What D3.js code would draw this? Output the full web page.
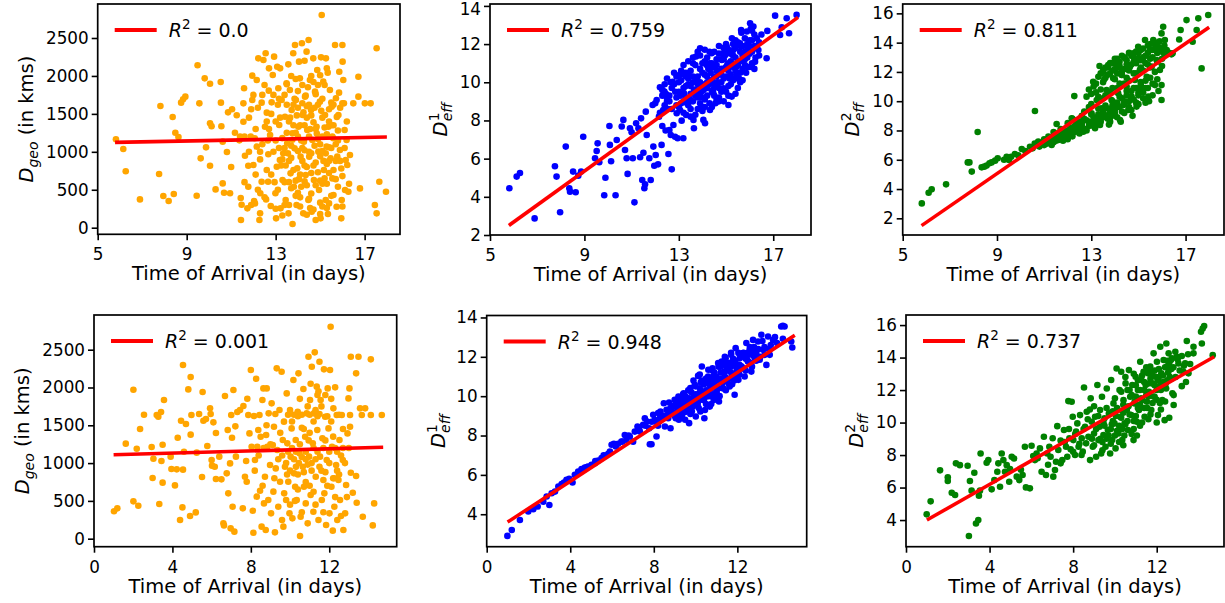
<!DOCTYPE html>
<html>
<head>
<meta charset="utf-8">
<script src="https://cdn.jsdelivr.net/npm/d3@7"></script>
<style>
  body { margin: 0; background: #fff; }
  text { font-family: "DejaVu Sans", sans-serif; }
</style>
</head>
<body>
<script>
// valores (aprox.)
var xTicksTop = [5, 9, 13, 17];
var xTicksBot = [0, 4, 8, 12];
var geoTicks = [0, 500, 1000, 1500, 2000, 2500];
var eff1TopTicks = [2, 4, 6, 8, 10, 12, 14];
var eff2TopTicks = [2, 4, 6, 8, 10, 12, 14, 16];
var eff1BotTicks = [4, 6, 8, 10, 12, 14];
var eff2BotTicks = [4, 6, 8, 10, 12, 14, 16];
var r2Labels = ["0.0", "0.759", "0.811", "0.001", "0.948", "0.737"];

var geoTopFit = [[5.78, 1125], [18.0, 1195]];
var eff1TopFit = [[5.8, 2.5], [18.05, 13.4]];
var eff2TopFit = [[5.8, 1.5], [18.0, 15.05]];
var geoBotFit = [[1.0, 1110], [14.75, 1210]];
var eff1BotFit = [[1.0, 3.6], [14.75, 13.1]];
var eff2BotFit = [[1.0, 4.0], [14.75, 14.05]];

var geoTopPts = [[5.82,1164],[6.15,1037],[6.26,743],[6.9,373],[7.76,707],[7.82,1604],[7.95,417],[8.19,351],[8.37,1459],[8.42,444],[8.49,1252],[8.63,1195],[8.75,1648],[8.84,1692],[8.94,1727],[9.45,422],[9.49,2140],[9.57,1639],[9.63,914],[9.81,1968],[9.87,1059],[10.05,817],[10.05,1898],[10.05,1375],[10.12,1336],[10.3,505],[10.53,1920],[10.54,1648],[10.56,1336],[10.62,1134],[10.62,584],[10.68,461],[10.81,997],[10.86,1520],[10.95,453],[11.0,800],[11.04,1560],[11.17,1252],[11.25,1481],[11.37,1151],[11.4,1200],[11.43,391],[11.44,101],[11.47,303],[11.55,1397],[11.55,1639],[11.58,1837],[11.62,949],[11.73,255],[11.77,540],[11.77,817],[11.88,1200],[11.95,2004],[11.95,1683],[12.0,826],[12.03,351],[12.06,1178],[12.07,320],[12.15,1068],[12.15,1946],[12.22,2232],[12.27,101],[12.3,189],[12.31,453],[12.37,606],[12.37,1648],[12.45,2210],[12.52,1331],[12.55,2298],[12.57,373],[12.6,1516],[12.66,606],[12.67,967],[12.69,1806],[12.75,1222],[12.78,286],[12.82,1652],[12.87,2012],[12.93,2254],[12.99,453],[13.02,123],[13.05,804],[13.07,2122],[13.12,1837],[13.16,1353],[13.19,892],[13.22,255],[13.27,1683],[13.31,628],[13.34,980],[13.42,1463],[13.45,365],[13.49,1903],[13.52,1112],[13.57,2153],[13.58,189],[13.64,1815],[13.67,716],[13.72,1551],[13.75,1244],[13.76,48],[13.79,2298],[13.82,540],[13.85,1046],[13.87,2408],[13.91,1683],[13.94,299],[13.97,782],[14.02,1331],[14.05,2188],[14.09,1968],[14.12,936],[14.15,540],[14.18,2430],[14.21,1485],[14.24,189],[14.27,1134],[14.32,1727],[14.35,694],[14.39,2320],[14.42,1287],[14.47,365],[14.48,2474],[14.51,936],[14.54,1946],[14.59,1551],[14.62,211],[14.65,1156],[14.69,2232],[14.72,628],[14.77,1793],[14.8,101],[14.84,1331],[14.87,2078],[14.92,1002],[14.95,496],[14.99,1661],[15.02,123],[15.04,2245],[15.07,2803],[15.1,1200],[15.14,1925],[15.17,760],[15.22,1485],[15.25,365],[15.26,2232],[15.29,1068],[15.34,2043],[15.37,1331],[15.4,320],[15.44,1815],[15.47,914],[15.52,1595],[15.55,650],[15.59,1178],[15.67,2408],[15.71,1705],[15.74,277],[15.77,936],[15.82,1485],[15.86,2056],[15.89,1024],[15.95,123],[15.97,365],[16.0,2408],[16.01,2188],[16.04,1946],[16.07,1639],[16.1,1287],[16.12,496],[16.15,892],[16.19,1156],[16.22,826],[16.27,474],[16.34,958],[16.49,1639],[16.72,1990],[16.72,1727],[16.79,518],[17.01,1639],[17.27,1639],[17.46,299],[17.54,189],[17.54,2364],[17.66,606],[17.96,474],
[13.1,1620],[13.3,1180],[13.4,1050],[13.5,1620],[13.6,1400],[13.6,880],[13.7,1080],[13.8,1620],[13.8,760],[13.9,1250],[13.9,420],[14.0,1580],[14.0,1010],[14.1,700],[14.1,1350],[14.2,880],[14.2,1640],[14.3,1020],[14.3,610],[14.4,1450],[14.4,800],[14.5,1200],[14.5,1620],[14.6,980],[14.6,720],[14.7,1390],[14.7,1920],[14.8,860],[14.8,560],[14.9,1170],[14.9,1620],[15.0,940],[15.0,330],[15.1,1450],[15.1,1010],[15.2,650],[15.2,1880],[15.3,1230],[15.3,840],[15.4,1560],[15.4,1060],[15.5,420],[15.5,1350],[15.6,760],[15.6,1620],[15.7,1100],[15.8,540],[15.8,1280],[15.9,880],[16.0,1640],[13.2,2100],[13.5,1890],[13.9,1960],[14.3,2200],[14.6,2000],[15.0,2010],[15.3,2100],[14.1,280],[14.4,170],[14.7,240],[15.0,180],[15.3,260],[13.6,300],[13.3,160],[12.9,1000],[12.8,1500],[12.6,760],[12.4,1100],[12.3,900],[12.2,1580],[12.1,700],[11.9,1560],[11.8,1000],[11.6,1200],[13.4,600],[13.7,520],[14.0,460],[14.2,1880],[14.5,380],[14.8,1760],[15.1,580],[15.4,720],[15.7,880],[13.0,1400],[12.7,1300],[12.5,1880],[13.25,820],[13.75,1160],[14.25,1520],[14.75,1080],[15.25,980],[15.75,1460],[14.05,640],[14.55,1300],[15.05,1540],[13.55,980],[13.15,1700],[15.55,1200],[15.95,780],[14.35,1740],[14.85,1240],[13.85,1700],
[11.6,600],[11.8,1450],[11.9,300],[12.0,1750],[12.1,1300],[12.2,500],[12.3,1000],[12.4,1750],[12.5,400],[12.6,1400],[12.7,2100],[12.8,700],[12.9,1750],[13.0,250],[13.0,1150],[13.1,500],[13.2,1450],[13.3,900],[13.4,1750],[13.4,300],[13.5,1250],[13.6,600],[13.7,2000],[13.7,920],[13.8,1350],[13.9,620],[14.0,1200],[14.0,1800],[14.1,400],[14.2,1050],[14.3,1350],[14.3,820],[14.4,560],[14.4,1600],[14.5,1000],[14.6,1480],[14.6,450],[14.7,820],[14.8,1300],[14.9,730],[14.9,1880],[15.0,1100],[15.0,620],[15.1,1700],[15.1,280],[15.2,1320],[15.3,580],[15.4,1400],[15.4,880],[15.5,1050],[15.5,1650],[15.6,430],[15.6,1350],[15.7,640],[15.8,1150],[15.9,1580],[16.0,680],[16.1,1050],[16.2,1400],[16.3,580],[16.0,280],[15.85,1780],[14.15,1150],[13.65,1450],[13.15,1050],[12.65,1150],[14.45,1850],[15.15,880],[14.75,1580],[13.45,820],[13.95,1480],[14.55,260],[15.35,180],[12.95,600]];

var eff1TopPts = [[5.82,4.45],[6.13,5.06],[6.27,5.25],[6.89,2.87],[7.75,5.6],[7.82,5.06],[7.97,3.19],[8.21,6.63],[8.36,4.45],[8.39,4.27],[8.52,5.32],[8.63,4.24],[8.74,5.11],[8.86,5.32],[8.95,7.15],[9.45,6.02],[9.52,6.4],[9.56,6.8],[9.63,5.81],[9.84,4.08],[9.89,5.0],[10.06,7.71],[10.08,6.72],[10.13,5.86],[10.32,4.08],[10.37,6.98],[10.58,7.68],[10.65,8.03],[10.72,6.45],[10.79,6.02],[10.83,5.2],[10.93,7.59],[11.0,7.38],[11.05,6.02],[11.12,3.71],[11.19,7.85],[11.29,7.59],[11.36,6.07],[11.4,8.11],[11.45,4.88],[11.5,6.31],[11.54,4.45],[11.57,4.66],[11.6,8.46],[11.64,7.24],[11.75,6.02],[11.81,4.88],[11.89,8.81],[11.92,6.63],[11.96,5.63],[12.02,6.19],[12.06,9.07],[12.12,5.7],[12.16,8.2],[12.2,9.74],[12.27,6.72],[12.3,7.71],[12.34,8.55],[12.39,9.51],[12.44,7.47],[12.49,9.2],[12.56,6.24],[12.6,7.5],[12.66,7.24],[12.7,5.44],[12.74,10.03],[12.77,7.76],[12.84,7.15],[12.91,8.38],[12.95,7.07],[13.02,10.38],[13.05,8.55],[13.12,7.99],[13.19,7.07],[13.22,9.42],[13.31,8.29],[13.4,10.47],[13.47,9.11],[13.62,8.03],[13.64,7.59],[13.73,11.35],[13.79,9.51],[13.9,11.78],[13.97,8.72],[14.04,8.03],[14.11,7.85],[14.18,10.91],[14.32,8.55],[14.39,11.52],[14.46,9.42],[14.6,10.3],[14.68,8.99],[14.82,11.17],[14.89,9.69],[15.03,11.87],[15.1,8.81],[15.17,10.3],[15.24,9.25],[15.31,11.69],[15.45,10.82],[15.59,12.04],[15.64,12.74],[15.73,11.17],[15.88,12.66],[15.95,11.87],[16.02,13.09],[16.09,10.82],[16.16,12.92],[16.23,11.08],[16.37,11.69],[16.72,11.26],[16.75,12.69],[17.08,13.49],[17.29,12.48],[17.36,12.88],[17.57,13.35],[17.67,12.57],[17.99,13.53],
[13.0,9.5],[13.1,8.9],[13.1,10.1],[13.2,9.7],[13.3,9.2],[13.3,10.3],[13.4,8.8],[13.4,9.9],[13.5,9.4],[13.5,10.6],[13.6,9.0],[13.6,10.0],[13.7,9.6],[13.7,10.9],[13.8,8.6],[13.8,10.3],[13.9,9.3],[13.9,10.7],[14.0,9.9],[14.0,11.0],[14.1,9.1],[14.1,10.4],[14.2,9.7],[14.2,11.3],[14.3,10.1],[14.3,8.9],[14.4,10.8],[14.4,9.5],[14.5,10.3],[14.5,11.6],[14.6,9.8],[14.6,10.9],[14.7,10.5],[14.7,9.2],[14.8,11.2],[14.8,10.0],[14.9,10.7],[14.9,11.8],[15.0,10.3],[15.0,9.5],[15.1,11.0],[15.1,10.6],[15.2,11.5],[15.2,9.9],[15.3,10.8],[15.3,12.0],[15.4,10.2],[15.4,11.3],[15.5,10.9],[15.5,9.7],[15.6,11.6],[15.6,10.5],[15.7,11.9],[15.7,10.1],[15.8,11.2],[15.8,12.3],[15.9,10.8],[16.0,11.5],[16.0,12.2],[16.1,11.0],[16.2,12.5],[16.3,11.8],[16.4,12.1],[13.2,8.4],[13.5,8.2],[13.8,9.2],[14.0,8.5],[14.2,10.0],[14.4,8.7],[14.6,9.1],[14.9,9.0],[15.1,9.3],[15.4,9.4],[14.1,11.7],[13.6,11.0],[13.9,11.4],[14.3,11.0],[14.7,11.5],[15.0,12.0],[15.4,12.2],[12.8,9.9],[12.6,9.3],[12.9,8.8],[12.7,8.6],[12.5,9.0],[12.4,8.8],[12.3,9.3],[12.2,8.4],[12.0,8.9],[12.9,10.3],[13.3,10.5],[14.5,9.9],[14.8,10.4],[15.2,10.4],[15.6,11.1],[15.9,11.7],[16.1,12.7],[16.5,12.5],[14.35,10.5],[13.75,10.1],[15.05,10.9],[15.55,10.2],[14.05,9.6],[13.45,9.0],[14.95,11.4],[15.85,10.5],[16.25,11.3],
[12.3,9.6],[12.4,9.9],[12.5,10.2],[12.6,9.0],[12.7,9.7],[12.8,10.5],[12.9,9.2],[13.0,10.0],[13.0,8.7],[13.1,10.6],[13.2,9.0],[13.2,10.9],[13.3,9.8],[13.4,10.2],[13.4,11.1],[13.5,8.6],[13.5,9.8],[13.6,10.3],[13.6,11.3],[13.7,9.3],[13.7,8.3],[13.8,9.9],[13.8,11.6],[13.9,8.9],[13.9,10.0],[14.0,10.5],[14.0,9.2],[14.1,11.1],[14.1,8.7],[14.2,10.3],[14.2,9.3],[14.3,11.6],[14.3,9.9],[14.4,10.1],[14.4,11.0],[14.5,9.3],[14.5,10.8],[14.6,11.2],[14.6,10.6],[14.7,9.7],[14.7,11.9],[14.8,10.7],[14.8,9.5],[14.9,10.2],[14.9,11.2],[15.0,11.5],[15.0,10.8],[15.1,9.8],[15.1,11.7],[15.2,10.9],[15.2,11.1],[15.3,10.1],[15.3,11.4],[15.4,11.8],[15.4,10.6],[15.5,11.1],[15.5,12.1],[15.6,10.0],[15.6,11.9],[15.7,10.7],[15.7,11.4],[15.8,11.6],[15.8,10.9],[15.9,12.0],[15.9,11.3],[16.0,10.8],[16.0,11.9],[16.1,11.6],[16.2,11.9],[16.2,10.7],[16.3,12.3],[16.4,11.4],[16.1,12.2],[14.25,10.7],[14.65,10.0],[15.15,10.2],[13.65,9.6],[13.35,8.9],[12.85,9.5],[12.55,8.6],[12.45,9.4],[13.05,9.3],[14.45,9.6],[14.85,11.5],[15.25,12.3],[15.65,12.6],[16.05,12.8],[15.45,10.4],[14.55,8.9],[13.95,9.5],[13.25,10.4],[12.65,10.0]];

var eff2TopPts = [[5.81,3.02],[6.1,3.75],[6.23,3.98],[6.84,4.32],[7.76,5.82],[7.83,5.82],[7.93,5.19],[8.18,7.9],[8.35,5.48],[8.46,5.53],[8.56,5.6],[8.68,5.76],[8.77,5.82],[8.92,5.94],[9.03,6.1],[9.41,6.21],[9.51,5.98],[9.76,6.39],[10.05,6.73],[10.4,6.89],[10.51,6.78],[10.61,9.33],[10.75,7.24],[10.96,7.12],[11.18,7.58],[11.32,7.01],[11.53,8.44],[11.6,7.35],[11.78,7.92],[11.95,7.58],[12.17,8.83],[12.28,10.35],[12.38,8.15],[12.52,8.6],[12.66,7.92],[12.8,10.31],[12.92,8.37],[13.01,9.17],[13.08,11.33],[13.16,8.15],[13.23,10.08],[13.3,11.67],[13.37,8.37],[13.44,9.51],[13.51,12.13],[13.58,9.06],[13.65,10.76],[13.72,12.47],[13.79,8.83],[13.86,10.08],[13.93,11.56],[14.0,9.17],[14.07,12.58],[14.14,10.54],[14.22,8.72],[14.29,11.79],[14.36,9.74],[14.43,12.93],[14.5,10.99],[14.57,9.4],[14.64,12.36],[14.71,10.31],[14.78,13.27],[14.85,11.45],[14.92,9.63],[14.99,13.72],[15.06,12.13],[15.13,10.76],[15.2,12.93],[15.28,14.18],[15.35,11.67],[15.42,10.31],[15.49,13.5],[15.56,12.36],[15.63,14.18],[15.7,11.1],[15.77,12.81],[15.84,13.72],[15.91,12.13],[15.98,10.08],[15.98,11.1],[15.98,14.63],[16.05,15.09],[16.08,13.27],[16.12,14.18],[16.45,13.27],[16.73,14.22],[16.79,14.86],[17.04,15.54],[17.3,14.06],[17.47,14.86],[17.54,15.66],[17.68,12.24],[17.96,15.89],
[11.4,7.2],[11.7,7.5],[11.9,7.7],[12.0,7.9],[12.1,8.1],[12.2,7.6],[12.3,8.3],[12.4,8.0],[12.5,8.2],[12.6,8.5],[12.7,8.1],[12.8,8.7],[12.9,8.3],[13.0,8.6],[13.1,8.9],[13.2,8.5],[13.3,9.1],[13.4,8.8],[13.5,9.3],[13.6,8.9],[13.7,9.5],[13.8,9.2],[13.9,9.7],[14.0,9.4],[14.1,9.9],[14.2,9.6],[14.3,10.2],[14.4,9.8],[14.5,10.4],[14.6,10.0],[14.7,10.7],[14.8,10.1],[14.9,10.9],[15.0,10.4],[15.1,11.1],[15.2,10.6],[15.3,11.4],[15.4,10.9],[15.5,11.6],[12.9,10.8],[13.1,11.0],[13.2,10.6],[13.4,11.9],[13.5,11.3],[13.6,12.3],[13.7,11.8],[13.8,12.6],[13.9,12.1],[14.0,12.9],[14.1,11.9],[14.2,12.7],[14.3,13.1],[14.4,12.2],[14.5,12.8],[14.6,13.3],[14.7,12.5],[14.8,13.0],[14.9,12.6],[15.0,13.3],[15.1,12.8],[15.2,13.6],[15.3,13.1],[15.4,13.8],[15.5,12.9],[15.6,13.5],[15.7,13.9],[15.8,13.3],[15.9,14.1],[16.0,13.6],[16.1,13.4],[16.2,13.2],[16.4,13.2],[13.3,10.3],[13.6,10.4],[13.9,10.9],[14.2,11.2],[14.5,11.6],[14.8,11.9],[15.1,12.3],[15.4,12.5],[15.7,12.0],[16.0,12.4],[13.0,9.8],[12.7,9.3],[13.8,8.6],[14.1,8.9],[14.4,9.2],[14.7,9.4],[15.0,9.8],[15.3,9.9],[15.6,10.4],[12.4,8.6],[11.8,7.3],[11.5,7.6],[11.2,7.3],[11.0,7.0],[10.8,6.9],[10.2,6.6],[9.9,6.3],[9.3,6.0],[9.6,6.2],[12.2,8.8],[13.35,12.4],[13.55,11.5],[14.15,12.3],
[11.1,7.1],[11.3,7.4],[11.5,7.3],[11.6,7.8],[11.8,7.6],[11.9,8.0],[12.0,7.4],[12.1,7.8],[12.2,8.2],[12.3,7.9],[12.4,8.4],[12.5,7.8],[12.6,8.3],[12.7,8.8],[12.8,8.0],[12.9,8.6],[13.0,9.1],[13.1,8.3],[13.2,8.8],[13.3,9.5],[13.4,8.6],[13.5,9.0],[13.6,9.7],[13.7,8.8],[13.8,9.4],[13.9,10.0],[14.0,9.0],[14.1,9.6],[14.2,10.3],[14.3,9.3],[14.4,10.0],[14.5,10.7],[14.6,9.6],[14.7,10.2],[14.8,10.9],[14.9,9.9],[15.0,10.6],[15.1,11.3],[15.2,10.2],[15.3,10.9],[15.4,11.6],[15.6,11.2],[15.8,11.5],[13.0,10.5],[13.2,11.2],[13.4,10.8],[13.5,12.0],[13.6,11.6],[13.7,12.3],[13.8,11.9],[13.9,12.6],[14.0,12.2],[14.1,12.9],[14.2,12.4],[14.3,12.0],[14.4,13.0],[14.5,12.5],[14.6,12.1],[14.7,13.1],[14.8,12.7],[14.9,13.4],[15.0,12.9],[15.1,13.5],[15.2,13.0],[15.3,12.6],[15.4,13.3],[15.5,13.9],[15.6,13.0],[15.7,13.6],[15.8,14.0],[15.9,13.4],[16.0,12.9],[16.1,13.8],[16.2,13.5],[16.3,13.3],[14.0,11.5],[14.3,11.8],[14.6,11.4],[14.9,11.9],[15.2,12.1],[15.5,12.3],[15.8,12.7],[13.8,10.6],[14.1,10.9],[14.4,11.2],[13.5,10.2],[12.9,9.6],[12.6,9.0],[12.3,8.7],[12.0,8.5],[11.7,8.1],[11.4,7.9],[11.0,7.4],[10.6,7.1],[14.75,9.0],[14.25,8.6],[13.75,8.4],[15.45,10.0],[15.85,10.7]];

var geoBotPts = [[1.02,362],[1.19,401],[1.62,1257],[2.01,1971],[2.01,494],[2.18,1190],[2.26,436],[2.35,1451],[2.55,1640],[2.94,1212],[2.99,802],[3.03,1058],[3.2,1636],[3.28,1614],[3.33,459],[3.42,1675],[3.44,1027],[3.5,1243],[3.5,741],[3.57,1834],[3.91,1085],[3.95,921],[4.13,705],[4.22,917],[4.27,1336],[4.39,247],[4.44,1561],[4.51,414],[4.54,913],[4.54,2297],[4.59,1151],[4.69,1517],[4.81,1975],[4.9,300],[4.93,2138],[4.93,1376],[4.97,1636],[5.19,348],[5.24,1138],[5.36,1649],[5.51,816],[5.54,1940],[5.58,1561],[5.71,1583],[5.78,1226],[5.92,1724],[5.95,1649],[6.0,1041],[6.02,966],[6.09,1539],[6.16,952],[6.22,1398],[6.22,789],[6.39,1085],[6.5,785],[6.6,203],[6.63,176],[6.68,1887],[6.77,864],[6.82,1437],[6.85,600],[6.94,996],[6.97,137],[7.0,1636],[7.04,1336],[7.07,423],[7.11,1966],[7.16,93],[7.21,1486],[7.24,1085],[7.31,1675],[7.45,1702],[7.59,401],[7.62,1755],[7.7,820],[7.76,1027],[7.79,754],[7.82,1852],[7.87,1636],[7.93,1393],[8.0,2231],[8.04,1217],[8.1,370],[8.13,79],[8.16,1622],[8.21,1041],[8.27,2116],[8.3,556],[8.33,1217],[8.38,1437],[8.44,1636],[8.47,635],[8.5,1349],[8.55,159],[8.59,1834],[8.64,1988],[8.67,467],[8.72,820],[8.76,115],[8.78,1371],[8.81,1988],[8.84,1217],[8.89,511],[8.91,1658],[8.98,974],[9.03,335],[9.06,1790],[9.12,1239],[9.15,622],[9.18,1481],[9.23,84],[9.27,930],[9.32,2253],[9.35,1173],[9.4,423],[9.46,1702],[9.49,754],[9.57,2209],[9.59,247],[9.63,1305],[9.66,159],[9.69,1548],[9.74,952],[9.8,511],[9.83,1922],[9.86,1261],[9.91,754],[9.97,335],[10.0,1702],[10.03,1085],[10.08,1459],[10.12,269],[10.17,2099],[10.2,864],[10.26,688],[10.29,1305],[10.34,511],[10.39,1680],[10.43,2187],[10.48,1129],[10.51,35],[10.54,291],[10.6,1468],[10.65,952],[10.68,1980],[10.71,688],[10.77,1349],[10.8,467],[10.85,1658],[10.9,203],[10.94,2407],[10.97,1085],[11.02,1834],[11.05,578],[11.11,2275],[11.16,1261],[11.19,357],[11.22,1658],[11.26,2465],[11.31,820],[11.36,2011],[11.39,1437],[11.45,247],[11.5,2341],[11.53,1085],[11.56,1834],[11.62,511],[11.65,1327],[11.7,776],[11.73,2240],[11.79,1614],[11.84,181],[11.87,1041],[11.92,1988],[11.96,1459],[12.01,335],[12.04,2231],[12.07,2804],[12.11,688],[12.14,1217],[12.18,106],[12.21,1724],[12.26,423],[12.3,2002],[12.35,974],[12.38,1636],[12.41,247],[12.47,776],[12.52,1305],[12.55,511],[12.64,1636],[12.69,1041],[12.72,115],[12.81,335],[12.86,710],[12.93,1393],[12.98,1856],[13.03,1988],[13.06,1636],[13.06,1481],[13.1,2407],[13.1,873],[13.2,608],[13.37,2187],[13.37,829],[13.4,476],[13.49,2407],[13.57,1724],[13.66,1636],[13.71,291],[13.83,1724],[14.12,1636],[14.12,2372],[14.22,176],[14.29,467],[14.68,1636],
[9.6,1100],[9.8,1000],[10.0,900],[10.1,1200],[10.2,1050],[10.3,950],[10.4,1620],[10.5,1250],[10.6,1080],[10.7,880],[10.8,1150],[10.9,980],[11.0,1400],[11.1,900],[11.2,1200],[11.3,1050],[11.4,1620],[11.5,950],[11.6,1750],[11.7,1200],[11.8,880],[11.9,1620],[12.0,1150],[12.1,1550],[12.2,800],[12.3,1200],[12.4,900],[12.5,1640],[12.6,1100],[12.7,1200],[9.9,1640],[10.2,1640],[10.6,1640],[11.0,1640],[11.3,1700],[11.8,1900],[11.4,1900],[10.8,750],[11.2,620],[10.4,650],
[8.2,900],[8.4,1100],[8.6,700],[8.8,1500],[9.0,1250],[9.2,800],[9.4,1050],[9.5,1400],[9.7,600],[9.9,1150],[10.0,450],[10.1,1550],[10.3,1150],[10.4,850],[10.5,1850],[10.6,350],[10.7,1450],[10.8,1050],[10.9,1750],[11.0,700],[11.1,1000],[11.2,1550],[11.3,450],[11.4,1150],[11.5,1650],[11.6,900],[11.7,350],[11.8,1300],[11.9,700],[12.0,1000],[12.1,1850],[12.2,1350],[12.3,550],[12.4,1150],[12.5,850],[12.6,300],[12.7,1450],[12.8,1000],[12.9,550],[13.0,1200],[11.45,1950],[10.95,1300],[10.45,1000],[9.85,850],[9.25,1650],[8.65,1200],[11.75,600],[12.25,800],[10.25,500],[11.05,2050]];

var eff1BotPts = [[0.99,2.9],[1.2,3.2],[1.59,3.71],[1.99,4.14],[2.23,4.25],[2.44,4.39],[2.71,4.64],[2.87,4.9],[3.0,4.47],[3.11,5.07],[3.27,5.15],[3.43,5.41],[3.59,5.53],[3.7,5.61],[3.82,5.75],[3.95,5.8],[4.11,5.61],[4.22,6.0],[4.38,6.17],[4.54,6.29],[4.7,6.37],[4.86,6.42],[5.02,6.51],[5.18,6.59],[5.34,6.73],[5.5,6.85],[5.66,6.97],[5.82,7.07],[5.9,7.19],[5.98,7.53],[6.09,7.58],[6.18,7.44],[6.29,7.58],[6.45,7.69],[6.61,8.03],[6.69,7.78],[6.85,7.95],[7.01,7.69],[7.09,8.2],[7.22,8.46],[7.33,8.2],[7.49,8.54],[7.57,8.88],[7.68,8.71],[7.78,8.37],[7.81,7.56],[7.89,7.56],[7.97,9.05],[8.05,8.8],[8.13,7.95],[8.21,9.14],[8.26,8.71],[8.32,9.22],[8.41,8.88],[8.48,9.64],[8.53,8.46],[8.61,9.31],[8.69,8.88],[8.73,9.68],[8.8,8.37],[8.86,9.39],[8.92,9.14],[9.0,9.81],[9.05,8.88],[9.12,9.47],[9.18,9.98],[9.24,9.05],[9.32,9.73],[9.37,9.31],[9.43,10.15],[9.5,8.8],[9.56,9.56],[9.64,9.9],[9.69,8.63],[9.75,10.41],[9.82,9.22],[9.88,9.81],[9.96,10.58],[10.01,8.97],[10.07,9.56],[10.12,11.03],[10.17,10.15],[10.23,9.22],[10.3,11.51],[10.36,9.81],[10.42,8.88],[10.49,10.75],[10.55,9.98],[10.61,11.34],[10.68,9.47],[10.76,10.41],[10.81,11.42],[10.87,9.81],[10.93,10.75],[11.0,10.24],[11.08,11.68],[11.12,9.73],[11.19,10.83],[11.25,11.76],[11.31,10.41],[11.38,11.25],[11.44,11.93],[11.51,10.75],[11.57,11.51],[11.63,10.49],[11.7,12.1],[11.76,11.0],[11.82,11.59],[11.87,10.07],[11.92,12.44],[11.98,11.34],[12.05,10.83],[12.11,11.93],[12.19,11.51],[12.27,12.19],[12.35,11.0],[12.43,12.7],[12.51,11.76],[12.59,12.36],[12.67,11.25],[12.75,12.86],[12.83,11.93],[12.91,12.19],[12.99,12.78],[13.07,11.85],[13.15,13.12],[13.23,12.36],[13.31,12.1],[13.39,11.59],[13.47,13.03],[13.55,12.1],[13.71,12.86],[14.1,13.54],[14.18,13.58],[14.26,13.54],[14.18,12.92],[14.58,12.78],[14.63,12.47],
[9.1,9.2],[9.2,9.6],[9.3,9.9],[9.4,9.5],[9.5,10.0],[9.6,9.3],[9.7,9.8],[9.8,10.2],[9.9,9.5],[10.0,10.1],[10.1,9.7],[10.2,10.4],[10.3,10.0],[10.4,10.6],[10.5,9.6],[10.6,10.3],[10.7,10.8],[10.8,10.1],[10.9,10.5],[11.0,11.0],[11.1,10.4],[11.2,11.2],[11.3,10.7],[11.4,11.0],[11.5,11.4],[11.6,10.9],[11.7,11.5],[11.8,11.1],[11.9,11.8],[12.0,11.3],[12.1,11.6],[12.2,12.0],[12.3,11.4],[12.4,11.9],[12.5,12.2],[12.6,11.7],[12.7,12.1],[12.8,12.5],[9.35,9.0],[9.65,10.3],[9.95,9.9],[10.25,10.7],[10.55,10.1],[10.85,11.0],[11.15,10.0],[11.45,10.3],[11.75,10.6],[12.05,12.2],[10.15,9.4],[10.45,9.3],[10.75,9.6],[11.05,9.9],[11.35,11.6],[11.65,11.7],[11.95,10.9],[8.5,9.0],[8.7,9.2],[8.9,9.5],[8.3,8.9],[8.1,8.7],
[8.6,8.9],[8.8,9.4],[9.0,9.0],[9.1,9.7],[9.2,8.8],[9.3,9.4],[9.4,10.1],[9.5,9.2],[9.6,9.7],[9.7,10.3],[9.8,9.4],[9.9,10.0],[10.0,10.5],[10.1,9.6],[10.2,10.0],[10.3,10.8],[10.4,9.8],[10.5,10.3],[10.6,11.0],[10.7,10.0],[10.8,10.6],[10.9,11.2],[11.0,10.2],[11.1,10.8],[11.2,11.5],[11.3,10.4],[11.4,10.9],[11.5,11.7],[11.6,10.6],[11.7,11.2],[11.8,11.9],[11.9,11.0],[12.0,11.6],[12.1,11.1],[12.2,11.5],[12.3,12.2],[12.4,11.3],[12.5,11.8],[12.6,12.5],[12.7,11.5],[12.8,12.1],[12.9,11.8],[13.0,12.4],[13.1,12.0],[13.2,12.8],[13.3,12.5],[13.5,12.4],[13.6,12.6],[13.8,13.0],[13.9,12.7],[9.15,9.5],[9.45,9.8],[9.75,9.1],[10.05,9.9],[10.35,10.2],[10.65,10.6],[10.95,10.0],[11.25,10.9],[11.55,11.3],[11.85,10.8],[12.15,12.0],[12.45,12.0],[12.75,12.4],[10.5,10.9],[10.8,11.3],[11.1,11.5],[9.9,10.8],[10.2,11.1],[11.4,12.0],[11.7,12.2],[7.3,8.3],[7.6,8.5],[7.9,8.7],[8.2,8.5],[8.4,9.0],[6.8,8.0],[6.5,7.7],[5.6,7.0],[5.2,6.7],[4.8,6.4]];

var eff2BotPts = [[0.99,4.35],[1.18,5.15],[1.63,7.06],[2.0,6.63],[2.0,6.4],[2.19,5.68],[2.35,5.54],[2.39,7.49],[2.58,7.38],[2.95,7.34],[3.01,3.02],[3.06,6.4],[3.14,5.81],[3.27,6.91],[3.35,3.79],[3.46,4.0],[3.49,5.5],[3.54,5.81],[3.57,8.1],[3.86,7.53],[3.94,7.69],[4.1,5.89],[4.23,6.46],[4.37,6.97],[4.42,7.49],[4.5,6.05],[4.58,8.1],[4.66,7.69],[4.74,6.97],[4.82,7.38],[4.94,6.36],[4.98,7.14],[5.06,7.9],[5.17,7.79],[5.3,6.67],[5.42,6.46],[5.58,6.77],[5.69,8.51],[5.74,6.01],[5.93,5.95],[6.01,8.57],[6.09,7.94],[6.17,7.69],[6.25,8.1],[6.41,8.41],[6.49,6.97],[6.6,9.13],[6.7,6.77],[6.76,8.1],[6.86,8.51],[6.92,7.9],[7.02,9.03],[7.05,6.67],[7.13,7.08],[7.18,7.59],[7.24,9.78],[7.29,8.31],[7.4,7.49],[7.48,7.69],[7.56,9.54],[7.66,8.51],[7.72,7.9],[7.77,11.32],[7.82,9.03],[7.88,8.35],[7.93,11.28],[7.98,10.36],[8.01,8.92],[8.09,8.0],[8.14,9.44],[8.2,9.95],[8.26,8.51],[8.33,10.46],[8.41,9.03],[8.46,8.21],[8.52,12.16],[8.57,9.74],[8.62,8.72],[8.65,10.67],[8.73,9.13],[8.81,7.69],[8.84,11.49],[8.89,10.05],[8.94,8.51],[9.0,9.33],[9.05,10.36],[9.1,7.9],[9.16,12.31],[9.21,8.92],[9.26,9.74],[9.29,10.77],[9.34,8.1],[9.38,11.59],[9.45,9.23],[9.5,10.26],[9.55,8.51],[9.61,12.1],[9.66,9.54],[9.71,10.56],[9.77,8.1],[9.82,12.62],[9.87,8.92],[9.93,11.18],[9.98,9.95],[10.03,8.41],[10.08,13.33],[10.13,10.77],[10.17,9.33],[10.22,12.0],[10.25,10.36],[10.3,13.13],[10.35,8.92],[10.41,11.38],[10.46,9.95],[10.51,12.41],[10.57,10.77],[10.62,9.54],[10.67,13.23],[10.73,11.59],[10.78,10.46],[10.83,12.31],[10.89,8.92],[10.94,11.18],[10.99,12.82],[11.05,10.05],[11.1,12.0],[11.15,10.77],[11.21,13.74],[11.26,12.62],[11.31,11.38],[11.37,13.13],[11.42,10.36],[11.47,12.31],[11.53,11.28],[11.58,13.03],[11.63,11.9],[11.69,13.44],[11.74,10.77],[11.79,12.41],[11.85,14.26],[11.9,11.59],[11.95,12.82],[12.01,13.74],[12.06,10.46],[12.11,12.21],[12.17,14.67],[12.22,13.03],[12.27,11.38],[12.33,13.85],[12.38,10.15],[12.43,12.41],[12.46,14.87],[12.49,13.44],[12.57,14.26],[12.62,12.82],[12.68,13.85],[12.73,13.95],[12.81,11.08],[12.81,11.69],[12.89,14.36],[12.96,14.05],[13.04,13.64],[13.2,12.24],[13.28,13.13],[13.36,13.64],[13.44,15.02],[13.52,13.03],[13.76,14.26],[13.76,14.67],[14.16,14.87],[14.12,15.59],[14.2,15.79],[14.27,15.94],[14.68,14.15],
[9.4,8.8],[9.6,9.0],[9.8,9.6],[10.0,9.2],[10.2,9.8],[10.4,8.6],[10.6,10.1],[10.8,9.3],[11.0,10.4],[11.2,9.8],[11.4,10.9],[11.6,10.2],[11.8,11.2],[12.0,10.0],[12.2,10.8],[12.4,11.3],[12.6,10.3],[10.1,10.9],[10.3,11.9],[10.5,12.8],[10.7,12.0],[10.9,13.0],[11.1,12.6],[11.3,12.9],[11.5,13.4],[11.7,12.7],[11.9,13.2],[12.1,12.8],[12.3,12.5],[12.5,13.8],[12.7,13.3],[11.0,11.6],[11.2,11.1],[11.6,11.6],[11.4,12.0],[12.0,12.0],[12.2,12.4],[9.9,10.7],[10.4,10.6],[10.9,10.1],
[8.1,9.3],[8.3,8.7],[8.5,9.6],[8.7,10.2],[8.9,9.0],[9.0,8.6],[9.1,9.6],[9.2,10.4],[9.3,9.0],[9.4,8.3],[9.5,9.8],[9.6,10.9],[9.7,9.2],[9.8,8.7],[9.9,10.1],[10.0,11.5],[10.1,9.5],[10.2,8.8],[10.3,10.3],[10.4,11.1],[10.5,9.9],[10.6,12.0],[10.7,10.5],[10.8,11.7],[10.9,9.6],[11.0,12.3],[11.1,10.9],[11.2,12.0],[11.3,10.0],[11.4,12.5],[11.5,11.7],[11.6,12.4],[11.7,10.5],[11.8,12.9],[11.9,12.3],[12.0,11.4],[12.1,13.3],[12.2,12.0],[12.3,12.9],[12.4,13.4],[12.5,12.6],[12.6,13.6],[12.7,12.7],[12.8,13.4],[12.9,12.8],[13.0,13.9],[13.1,13.2],[13.2,14.1],[13.3,13.5],[13.4,12.5],[13.5,14.2],[13.6,13.6],[9.45,10.0],[9.75,10.6],[10.05,10.4],[10.35,9.6],[10.65,11.0],[10.95,11.3],[11.25,11.5],[11.55,10.9],[11.85,11.6],[12.15,11.2],[12.45,12.1],[12.75,11.8],[11.05,9.2],[10.45,9.2],[9.85,9.9],[11.65,13.2],[12.05,12.6],[12.55,13.1],[7.6,8.8],[7.8,9.6],[8.4,8.0],[8.0,8.2],[8.8,10.8],[9.0,11.0],[7.4,8.9],[6.8,7.4],[6.3,7.8],[5.5,7.1]];

var svg = d3.select("body").append("svg")
  .attr("width", 1225)
  .attr("height", 603);

// box = [esquerda, topo, direita, base] em pixels
var panels = [
  {pts: geoTopPts, fit: geoTopFit, r2: r2Labels[0], color: "#ffa500", kind: "geo",
   box: [97.7, 4, 400, 234.3], xDom: [5, 18.59], yDom: [-87, 2948], xTicks: xTicksTop, yTicks: geoTicks, labGap: 64.5},
  {pts: eff1TopPts, fit: eff1TopFit, r2: r2Labels[1], color: "#0000ff", kind: "1",
   box: [490, 4, 811, 235], xDom: [5, 18.6], yDom: [2, 14.1], xTicks: xTicksTop, yTicks: eff1TopTicks, labGap: 43},
  {pts: eff2TopPts, fit: eff2TopFit, r2: r2Labels[2], color: "#008000", kind: "2",
   box: [902.7, 4, 1224, 235], xDom: [5, 18.63], yDom: [0.86, 16.64], xTicks: xTicksTop, yTicks: eff2TopTicks, labGap: 43.5},
  {pts: geoBotPts, fit: geoBotFit, r2: r2Labels[3], color: "#ffa500", kind: "geo",
   box: [94, 315, 396.7, 546.7], xDom: [0, 15.44], yDom: [-106, 2959], xTicks: xTicksBot, yTicks: geoTicks, labGap: 64.7},
  {pts: eff1BotPts, fit: eff1BotFit, r2: r2Labels[4], color: "#0000ff", kind: "1",
   box: [486.7, 315.5, 806.7, 546.7], xDom: [0, 15.32], yDom: [2.35, 14.1], xTicks: xTicksBot, yTicks: eff1BotTicks, labGap: 41.7},
  {pts: eff2BotPts, fit: eff2BotFit, r2: r2Labels[5], color: "#008000", kind: "2",
   box: [906, 315, 1224, 546.7], xDom: [0, 15.22], yDom: [2.36, 16.62], xTicks: xTicksBot, yTicks: eff2BotTicks, labGap: 42.7}
];

panels.forEach(function(p) {
  var l = p.box[0], t = p.box[1], r = p.box[2], b = p.box[3];
  var x = d3.scaleLinear().domain(p.xDom).range([l, r]);
  var y = d3.scaleLinear().domain(p.yDom).range([b, t]);
  var g = svg.append("g");

  g.selectAll("circle")
    .data(p.pts)
    .enter()
    .append("circle")
    .attr("cx", d => x(d[0]))
    .attr("cy", d => y(d[1]))
    .attr("r", 3.3)
    .attr("fill", p.color);

  g.append("path")
    .attr("d", d3.line().x(d => x(d[0])).y(d => y(d[1]))(p.fit))
    .attr("fill", "none")
    .attr("stroke", "#ff0000")
    .attr("stroke-width", 3.6);

  var xa = g.append("g")
    .attr("transform", "translate(0," + b + ")")
    .call(d3.axisBottom(x).tickValues(p.xTicks).tickFormat(d3.format("d")).tickSize(6).tickPadding(8).tickSizeOuter(0));
  var ya = g.append("g")
    .attr("transform", "translate(" + l + ",0)")
    .call(d3.axisLeft(y).tickValues(p.yTicks).tickFormat(d3.format("d")).tickSize(6).tickPadding(3).tickSizeOuter(0));
  [xa, ya].forEach(function(a) {
    a.select(".domain").remove();
    a.attr("font-size", 16.8).attr("font-family", "DejaVu Sans");
    a.selectAll("line").attr("stroke", "#000").attr("stroke-width", 1.6);
    a.selectAll("text").attr("fill", "#000");
  });
  // rótulo do topo encostado na borda da figura
  ya.selectAll(".tick text").attr("dy", d => y(d) < 8 ? "0.5em" : "0.32em");

  g.append("rect")
    .attr("x", l).attr("y", t)
    .attr("width", r - l).attr("height", b - t)
    .attr("fill", "none")
    .attr("stroke", "#000")
    .attr("stroke-width", 1.7);

  // legenda
  g.append("line")
    .attr("x1", l + 17).attr("x2", l + 59)
    .attr("y1", t + 26).attr("y2", t + 26)
    .attr("stroke", "#ff0000").attr("stroke-width", 4);
  var lt = g.append("text")
    .attr("x", l + 71).attr("y", t + 33)
    .attr("font-size", 19);
  lt.append("tspan").attr("font-style", "italic").text("R");
  lt.append("tspan").attr("font-size", 13.5).attr("dy", -8).text("2");
  lt.append("tspan").attr("dy", 8).text(" = " + p.r2);

  // eixo x
  g.append("text")
    .attr("x", (l + r) / 2).attr("y", b + 46)
    .attr("text-anchor", "middle")
    .attr("font-size", 19.5)
    .text("Time of Arrival (in days)");

  // eixo y
  var yl = g.append("text")
    .attr("transform", "translate(" + (l - p.labGap) + "," + ((t + b) / 2) + ") rotate(-90)")
    .attr("text-anchor", "middle")
    .attr("font-size", 19.5);
  yl.append("tspan").attr("font-style", "italic").text("D");
  if (p.kind == "geo") {
    yl.append("tspan").attr("font-style", "italic").attr("font-size", 14).attr("dy", 5).text("geo");
    yl.append("tspan").attr("dy", -5).text(" (in kms)");
  } else {
    yl.append("tspan").attr("font-size", 14).attr("dy", -8).text(p.kind);
    yl.append("tspan").attr("font-style", "italic").attr("font-size", 14).attr("dx", -8.9).attr("dy", 13).text("eff");
  }
});
</script>
</body>
</html>
